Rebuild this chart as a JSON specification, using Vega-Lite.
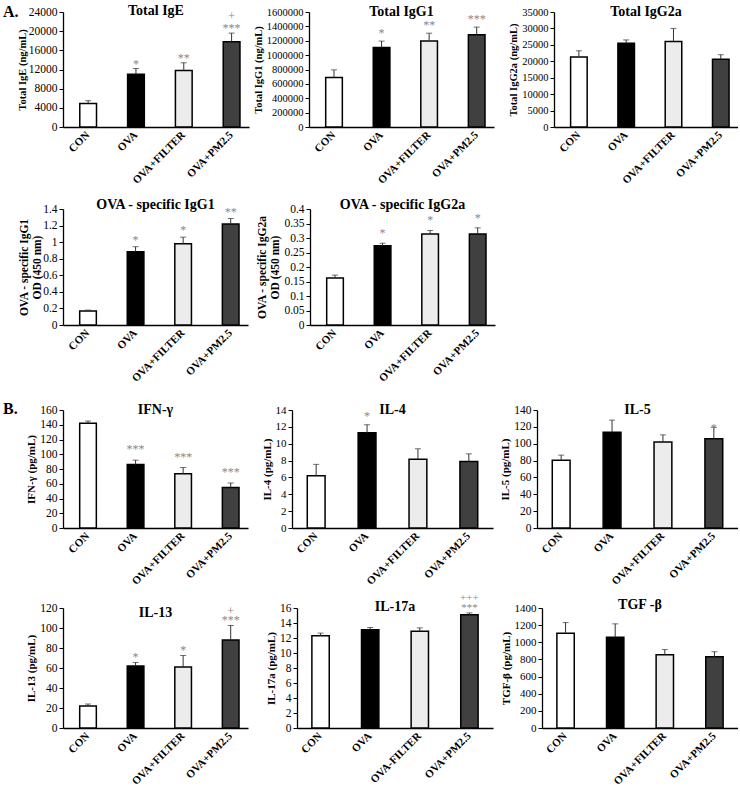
{
  "$schema": "https://vega.github.io/schema/vega-lite/v6.json",
  "background": "white",
  "padding": {"left": 3, "top": 4, "right": 0, "bottom": 0},
  "config": {
    "view": {"stroke": null},
    "font": "Liberation Serif",
    "axis": {"domainColor": "black", "domainWidth": 1.3, "tickColor": "black", "labelColor": "black", "titleColor": "black", "grid": false, "labelFont": "Liberation Serif", "titleFont": "Liberation Serif"},
    "axisY": {"tickSize": 4, "labelFontSize": 11, "titleFontSize": 10.5, "titleFontWeight": "bold", "titlePadding": 3, "labelPadding": 2},
    "axisX": {"ticks": false, "labelAngle": -45, "labelAlign": "right", "labelBaseline": "middle", "labelFontWeight": "bold", "labelFontSize": 11, "labelPadding": 6},
    "title": {"font": "Liberation Serif", "fontSize": 14, "fontWeight": "bold", "color": "black"}
  },
  "data": {"values": [
    {"p": "IgE", "g": "CON", "v": 4900, "hi": 5500, "s": "", "s2": ""},
    {"p": "IgE", "g": "OVA", "v": 11000, "hi": 12200, "s": "*", "s2": ""},
    {"p": "IgE", "g": "OVA+FILTER", "v": 11800, "hi": 13400, "s": "**", "s2": ""},
    {"p": "IgE", "g": "OVA+PM2.5", "v": 17800, "hi": 19600, "s": "***", "s2": "+"},
    {"p": "IgG1", "g": "CON", "v": 690000, "hi": 795000, "s": "", "s2": ""},
    {"p": "IgG1", "g": "OVA", "v": 1105000, "hi": 1195000, "s": "*", "s2": ""},
    {"p": "IgG1", "g": "OVA+FILTER", "v": 1195000, "hi": 1305000, "s": "**", "s2": ""},
    {"p": "IgG1", "g": "OVA+PM2.5", "v": 1285000, "hi": 1390000, "s": "***", "s2": ""},
    {"p": "IgG2a", "g": "CON", "v": 21300, "hi": 23200, "s": "", "s2": ""},
    {"p": "IgG2a", "g": "OVA", "v": 25500, "hi": 26500, "s": "", "s2": ""},
    {"p": "IgG2a", "g": "OVA+FILTER", "v": 26000, "hi": 30000, "s": "", "s2": ""},
    {"p": "IgG2a", "g": "OVA+PM2.5", "v": 20600, "hi": 22000, "s": "", "s2": ""},
    {"p": "OIgG1", "g": "CON", "v": 0.17, "hi": 0.18, "s": "", "s2": ""},
    {"p": "OIgG1", "g": "OVA", "v": 0.885, "hi": 0.945, "s": "*", "s2": ""},
    {"p": "OIgG1", "g": "OVA+FILTER", "v": 0.98, "hi": 1.06, "s": "*", "s2": ""},
    {"p": "OIgG1", "g": "OVA+PM2.5", "v": 1.22, "hi": 1.285, "s": "**", "s2": ""},
    {"p": "OIgG2a", "g": "CON", "v": 0.162, "hi": 0.172, "s": "", "s2": ""},
    {"p": "OIgG2a", "g": "OVA", "v": 0.273, "hi": 0.282, "s": "*", "s2": ""},
    {"p": "OIgG2a", "g": "OVA+FILTER", "v": 0.314, "hi": 0.326, "s": "*", "s2": ""},
    {"p": "OIgG2a", "g": "OVA+PM2.5", "v": 0.314, "hi": 0.335, "s": "*", "s2": ""},
    {"p": "IFN", "g": "CON", "v": 142, "hi": 145, "s": "", "s2": ""},
    {"p": "IFN", "g": "OVA", "v": 86, "hi": 92, "s": "***", "s2": ""},
    {"p": "IFN", "g": "OVA+FILTER", "v": 73.5, "hi": 82, "s": "***", "s2": ""},
    {"p": "IFN", "g": "OVA+PM2.5", "v": 55, "hi": 61, "s": "***", "s2": ""},
    {"p": "IL4", "g": "CON", "v": 6.2, "hi": 7.55, "s": "", "s2": ""},
    {"p": "IL4", "g": "OVA", "v": 11.3, "hi": 12.25, "s": "*", "s2": ""},
    {"p": "IL4", "g": "OVA+FILTER", "v": 8.15, "hi": 9.4, "s": "", "s2": ""},
    {"p": "IL4", "g": "OVA+PM2.5", "v": 7.9, "hi": 8.8, "s": "", "s2": ""},
    {"p": "IL5", "g": "CON", "v": 80.5, "hi": 86.5, "s": "", "s2": ""},
    {"p": "IL5", "g": "OVA", "v": 113.5, "hi": 128, "s": "", "s2": ""},
    {"p": "IL5", "g": "OVA+FILTER", "v": 102, "hi": 110.5, "s": "", "s2": ""},
    {"p": "IL5", "g": "OVA+PM2.5", "v": 106, "hi": 119.5, "s": "*", "s2": ""},
    {"p": "IL13", "g": "CON", "v": 22, "hi": 24, "s": "", "s2": ""},
    {"p": "IL13", "g": "OVA", "v": 62, "hi": 65.5, "s": "*", "s2": ""},
    {"p": "IL13", "g": "OVA+FILTER", "v": 61, "hi": 72.5, "s": "*", "s2": ""},
    {"p": "IL13", "g": "OVA+PM2.5", "v": 88, "hi": 102.5, "s": "***", "s2": "+"},
    {"p": "IL17", "g": "CON", "v": 12.3, "hi": 12.65, "s": "", "s2": ""},
    {"p": "IL17", "g": "OVA", "v": 13.1, "hi": 13.4, "s": "", "s2": ""},
    {"p": "IL17", "g": "OVA+FILTER", "v": 12.9, "hi": 13.35, "s": "", "s2": ""},
    {"p": "IL17", "g": "OVA+PM2.5", "v": 15.1, "hi": 15.35, "s": "***", "s2": "+++"},
    {"p": "TGF", "g": "CON", "v": 1105, "hi": 1230, "s": "", "s2": ""},
    {"p": "TGF", "g": "OVA", "v": 1060, "hi": 1215, "s": "", "s2": ""},
    {"p": "TGF", "g": "OVA+FILTER", "v": 855, "hi": 915, "s": "", "s2": ""},
    {"p": "TGF", "g": "OVA+PM2.5", "v": 830, "hi": 890, "s": "", "s2": ""}
  ]},
  "spacing": 17,
  "vconcat": [
    {
      "spacing": 12,
      "vconcat": [
        {
          "bounds": "flush", "spacing": 60,
          "title": {"text": "A.", "anchor": "start", "frame": "group", "dx": -60, "dy": 16, "offset": 0, "fontSize": 16},
          "hconcat": [
            {
              "width": 186, "height": 115,
              "transform": [{"filter": "datum.p === 'IgE'"}],
              "title": {"text": "Total IgE", "offset": -12, "frame": "group"},
              "encoding": {"x": {"field": "g", "type": "nominal", "sort": ["CON", "OVA", "OVA+FILTER", "OVA+PM2.5"], "scale": {"paddingInner": 0.65, "paddingOuter": 0.27, "align": 0.65}, "axis": {"title": null}}},
              "layer": [
                {"mark": {"type": "bar", "stroke": "black", "strokeWidth": 1.5}, "encoding": {"y": {"field": "v", "type": "quantitative", "scale": {"domain": [0, 24000], "nice": false}, "axis": {"values": [0, 4000, 8000, 12000, 16000, 20000, 24000], "format": "d", "title": "Total IgE (ng/mL)", "labelFontSize": 11.5, "titlePadding": 1}}, "fill": {"field": "g", "type": "nominal", "scale": {"domain": ["CON", "OVA", "OVA+FILTER", "OVA+PM2.5"], "range": ["#ffffff", "#000000", "#ececec", "#404040"]}, "legend": null}}},
                {"mark": {"type": "rule", "color": "#333", "strokeWidth": 1}, "encoding": {"y": {"field": "v", "type": "quantitative", "scale": {"domain": [0, 24000], "nice": false}, "axis": {"values": [0, 4000, 8000, 12000, 16000, 20000, 24000], "format": "d", "title": "Total IgE (ng/mL)", "labelFontSize": 11.5, "titlePadding": 1}}, "y2": {"field": "hi"}}},
                {"mark": {"type": "tick", "color": "#333", "thickness": 1, "size": 6}, "encoding": {"y": {"field": "hi", "type": "quantitative", "scale": {"domain": [0, 24000], "nice": false}, "axis": {"values": [0, 4000, 8000, 12000, 16000, 20000, 24000], "format": "d", "title": "Total IgE (ng/mL)", "labelFontSize": 11.5, "titlePadding": 1}}}},
                {"mark": {"type": "text", "baseline": "bottom", "color": "#888", "fontSize": 12, "dy": 2}, "encoding": {"y": {"field": "hi", "type": "quantitative", "scale": {"domain": [0, 24000], "nice": false}, "axis": {"values": [0, 4000, 8000, 12000, 16000, 20000, 24000], "format": "d", "title": "Total IgE (ng/mL)", "labelFontSize": 11.5, "titlePadding": 1}}, "text": {"field": "s"}}},
                {"mark": {"type": "text", "baseline": "bottom", "color": "#888", "fontSize": 12, "dy": -10}, "encoding": {"y": {"field": "hi", "type": "quantitative", "scale": {"domain": [0, 24000], "nice": false}, "axis": {"values": [0, 4000, 8000, 12000, 16000, 20000, 24000], "format": "d", "title": "Total IgE (ng/mL)", "labelFontSize": 11.5, "titlePadding": 1}}, "text": {"field": "s2"}}}
              ]
            },
            {
              "width": 185, "height": 115,
              "transform": [{"filter": "datum.p === 'IgG1'"}],
              "title": {"text": "Total IgG1", "offset": -12, "frame": "group"},
              "encoding": {"x": {"field": "g", "type": "nominal", "sort": ["CON", "OVA", "OVA+FILTER", "OVA+PM2.5"], "scale": {"paddingInner": 0.65, "paddingOuter": 0.27, "align": 0.65}, "axis": {"title": null}}},
              "layer": [
                {"mark": {"type": "bar", "stroke": "black", "strokeWidth": 1.5}, "encoding": {"y": {"field": "v", "type": "quantitative", "scale": {"domain": [0, 1600000], "nice": false}, "axis": {"values": [0, 200000, 400000, 600000, 800000, 1000000, 1200000, 1400000, 1600000], "format": "d", "title": "Total IgG1 (ng/mL)", "labelFontSize": 10.5}}, "fill": {"field": "g", "type": "nominal", "scale": {"domain": ["CON", "OVA", "OVA+FILTER", "OVA+PM2.5"], "range": ["#ffffff", "#000000", "#ececec", "#404040"]}, "legend": null}}},
                {"mark": {"type": "rule", "color": "#333", "strokeWidth": 1}, "encoding": {"y": {"field": "v", "type": "quantitative", "scale": {"domain": [0, 1600000], "nice": false}, "axis": {"values": [0, 200000, 400000, 600000, 800000, 1000000, 1200000, 1400000, 1600000], "format": "d", "title": "Total IgG1 (ng/mL)", "labelFontSize": 10.5}}, "y2": {"field": "hi"}}},
                {"mark": {"type": "tick", "color": "#333", "thickness": 1, "size": 6}, "encoding": {"y": {"field": "hi", "type": "quantitative", "scale": {"domain": [0, 1600000], "nice": false}, "axis": {"values": [0, 200000, 400000, 600000, 800000, 1000000, 1200000, 1400000, 1600000], "format": "d", "title": "Total IgG1 (ng/mL)", "labelFontSize": 10.5}}}},
                {"mark": {"type": "text", "baseline": "bottom", "color": "#888", "fontSize": 12, "dy": -1.5}, "encoding": {"y": {"field": "hi", "type": "quantitative", "scale": {"domain": [0, 1600000], "nice": false}, "axis": {"values": [0, 200000, 400000, 600000, 800000, 1000000, 1200000, 1400000, 1600000], "format": "d", "title": "Total IgG1 (ng/mL)", "labelFontSize": 10.5}}, "text": {"field": "s"}}}
              ]
            },
            {
              "width": 184, "height": 115,
              "transform": [{"filter": "datum.p === 'IgG2a'"}],
              "title": {"text": "Total IgG2a", "offset": -12, "frame": "group"},
              "encoding": {"x": {"field": "g", "type": "nominal", "sort": ["CON", "OVA", "OVA+FILTER", "OVA+PM2.5"], "scale": {"paddingInner": 0.65, "paddingOuter": 0.27, "align": 0.65}, "axis": {"title": null}}},
              "layer": [
                {"mark": {"type": "bar", "stroke": "black", "strokeWidth": 1.5}, "encoding": {"y": {"field": "v", "type": "quantitative", "scale": {"domain": [0, 35000], "nice": false}, "axis": {"values": [0, 5000, 10000, 15000, 20000, 25000, 30000, 35000], "format": "d", "title": "Total IgG2a (ng/mL)", "labelFontSize": 10.5}}, "fill": {"field": "g", "type": "nominal", "scale": {"domain": ["CON", "OVA", "OVA+FILTER", "OVA+PM2.5"], "range": ["#ffffff", "#000000", "#ececec", "#404040"]}, "legend": null}}},
                {"mark": {"type": "rule", "color": "#333", "strokeWidth": 1}, "encoding": {"y": {"field": "v", "type": "quantitative", "scale": {"domain": [0, 35000], "nice": false}, "axis": {"values": [0, 5000, 10000, 15000, 20000, 25000, 30000, 35000], "format": "d", "title": "Total IgG2a (ng/mL)", "labelFontSize": 10.5}}, "y2": {"field": "hi"}}},
                {"mark": {"type": "tick", "color": "#333", "thickness": 1, "size": 6}, "encoding": {"y": {"field": "hi", "type": "quantitative", "scale": {"domain": [0, 35000], "nice": false}, "axis": {"values": [0, 5000, 10000, 15000, 20000, 25000, 30000, 35000], "format": "d", "title": "Total IgG2a (ng/mL)", "labelFontSize": 10.5}}}}
              ]
            }
          ]
        },
        {
          "bounds": "flush", "spacing": 62,
          "hconcat": [
            {
              "width": 185, "height": 116,
              "transform": [{"filter": "datum.p === 'OIgG1'"}],
              "title": {"text": "OVA - specific IgG1", "offset": -9, "frame": "group"},
              "encoding": {"x": {"field": "g", "type": "nominal", "sort": ["CON", "OVA", "OVA+FILTER", "OVA+PM2.5"], "scale": {"paddingInner": 0.65, "paddingOuter": 0.27, "align": 0.65}, "axis": {"title": null}}},
              "layer": [
                {"mark": {"type": "bar", "stroke": "black", "strokeWidth": 1.5}, "encoding": {"y": {"field": "v", "type": "quantitative", "scale": {"domain": [0, 1.4], "nice": false}, "axis": {"values": [0, 0.2, 0.4, 0.6, 0.8, 1, 1.2, 1.4], "format": "~g", "title": ["OVA - specific IgG1", "OD (450 nm)"], "titleFontSize": 11.5, "labelFontSize": 11.5, "titlePadding": 0}}, "fill": {"field": "g", "type": "nominal", "scale": {"domain": ["CON", "OVA", "OVA+FILTER", "OVA+PM2.5"], "range": ["#ffffff", "#000000", "#ececec", "#333333"]}, "legend": null}}},
                {"mark": {"type": "rule", "color": "#333", "strokeWidth": 1}, "encoding": {"y": {"field": "v", "type": "quantitative", "scale": {"domain": [0, 1.4], "nice": false}, "axis": {"values": [0, 0.2, 0.4, 0.6, 0.8, 1, 1.2, 1.4], "format": "~g", "title": ["OVA - specific IgG1", "OD (450 nm)"], "titleFontSize": 11.5, "labelFontSize": 11.5, "titlePadding": 0}}, "y2": {"field": "hi"}}},
                {"mark": {"type": "tick", "color": "#333", "thickness": 1, "size": 6}, "encoding": {"y": {"field": "hi", "type": "quantitative", "scale": {"domain": [0, 1.4], "nice": false}, "axis": {"values": [0, 0.2, 0.4, 0.6, 0.8, 1, 1.2, 1.4], "format": "~g", "title": ["OVA - specific IgG1", "OD (450 nm)"], "titleFontSize": 11.5, "labelFontSize": 11.5, "titlePadding": 0}}}},
                {"mark": {"type": "text", "baseline": "bottom", "color": "#888", "fontSize": 12, "dy": 0}, "encoding": {"y": {"field": "hi", "type": "quantitative", "scale": {"domain": [0, 1.4], "nice": false}, "axis": {"values": [0, 0.2, 0.4, 0.6, 0.8, 1, 1.2, 1.4], "format": "~g", "title": ["OVA - specific IgG1", "OD (450 nm)"], "titleFontSize": 11.5, "labelFontSize": 11.5, "titlePadding": 0}}, "text": {"field": "s"}}}
              ]
            },
            {
              "width": 185, "height": 116,
              "transform": [{"filter": "datum.p === 'OIgG2a'"}],
              "title": {"text": "OVA - specific IgG2a", "offset": -9, "frame": "group"},
              "encoding": {"x": {"field": "g", "type": "nominal", "sort": ["CON", "OVA", "OVA+FILTER", "OVA+PM2.5"], "scale": {"paddingInner": 0.65, "paddingOuter": 0.27, "align": 0.65}, "axis": {"title": null}}},
              "layer": [
                {"mark": {"type": "bar", "stroke": "black", "strokeWidth": 1.5}, "encoding": {"y": {"field": "v", "type": "quantitative", "scale": {"domain": [0, 0.4], "nice": false}, "axis": {"values": [0, 0.05, 0.1, 0.15, 0.2, 0.25, 0.3, 0.35, 0.4], "format": "~g", "title": ["OVA - specific IgG2a", "OD (450 nm)"], "titleFontSize": 11.5, "labelFontSize": 11.5}}, "fill": {"field": "g", "type": "nominal", "scale": {"domain": ["CON", "OVA", "OVA+FILTER", "OVA+PM2.5"], "range": ["#ffffff", "#000000", "#ececec", "#333333"]}, "legend": null}}},
                {"mark": {"type": "rule", "color": "#333", "strokeWidth": 1}, "encoding": {"y": {"field": "v", "type": "quantitative", "scale": {"domain": [0, 0.4], "nice": false}, "axis": {"values": [0, 0.05, 0.1, 0.15, 0.2, 0.25, 0.3, 0.35, 0.4], "format": "~g", "title": ["OVA - specific IgG2a", "OD (450 nm)"], "titleFontSize": 11.5, "labelFontSize": 11.5}}, "y2": {"field": "hi"}}},
                {"mark": {"type": "tick", "color": "#333", "thickness": 1, "size": 6}, "encoding": {"y": {"field": "hi", "type": "quantitative", "scale": {"domain": [0, 0.4], "nice": false}, "axis": {"values": [0, 0.05, 0.1, 0.15, 0.2, 0.25, 0.3, 0.35, 0.4], "format": "~g", "title": ["OVA - specific IgG2a", "OD (450 nm)"], "titleFontSize": 11.5, "labelFontSize": 11.5}}}},
                {"mark": {"type": "text", "baseline": "bottom", "color": "#888", "fontSize": 12, "dy": -3}, "encoding": {"y": {"field": "hi", "type": "quantitative", "scale": {"domain": [0, 0.4], "nice": false}, "axis": {"values": [0, 0.05, 0.1, 0.15, 0.2, 0.25, 0.3, 0.35, 0.4], "format": "~g", "title": ["OVA - specific IgG2a", "OD (450 nm)"], "titleFontSize": 11.5, "labelFontSize": 11.5}}, "text": {"field": "s"}}}
              ]
            }
          ]
        }
      ]
    },
    {
      "spacing": 4,
      "vconcat": [
        {
          "bounds": "flush", "spacing": 44,
          "title": {"text": "B.", "anchor": "start", "frame": "group", "dx": -60, "dy": 14, "offset": 0, "fontSize": 16},
          "hconcat": [
            {
              "width": 185, "height": 118,
              "transform": [{"filter": "datum.p === 'IFN'"}],
              "title": {"text": "IFN-γ", "offset": -13, "frame": "group"},
              "encoding": {"x": {"field": "g", "type": "nominal", "sort": ["CON", "OVA", "OVA+FILTER", "OVA+PM2.5"], "scale": {"paddingInner": 0.65, "paddingOuter": 0.27, "align": 0.65}, "axis": {"title": null}}},
              "layer": [
                {"mark": {"type": "bar", "stroke": "black", "strokeWidth": 1.5}, "encoding": {"y": {"field": "v", "type": "quantitative", "scale": {"domain": [0, 160], "nice": false}, "axis": {"values": [0, 20, 40, 60, 80, 100, 120, 140, 160], "format": "d", "title": "IFN-γ (pg/mL)", "titleFontSize": 11, "labelFontSize": 11.5}}, "fill": {"field": "g", "type": "nominal", "scale": {"domain": ["CON", "OVA", "OVA+FILTER", "OVA+PM2.5"], "range": ["#ffffff", "#000000", "#ececec", "#404040"]}, "legend": null}}},
                {"mark": {"type": "rule", "color": "#333", "strokeWidth": 1}, "encoding": {"y": {"field": "v", "type": "quantitative", "scale": {"domain": [0, 160], "nice": false}, "axis": {"values": [0, 20, 40, 60, 80, 100, 120, 140, 160], "format": "d", "title": "IFN-γ (pg/mL)", "titleFontSize": 11, "labelFontSize": 11.5}}, "y2": {"field": "hi"}}},
                {"mark": {"type": "tick", "color": "#333", "thickness": 1, "size": 6}, "encoding": {"y": {"field": "hi", "type": "quantitative", "scale": {"domain": [0, 160], "nice": false}, "axis": {"values": [0, 20, 40, 60, 80, 100, 120, 140, 160], "format": "d", "title": "IFN-γ (pg/mL)", "titleFontSize": 11, "labelFontSize": 11.5}}}},
                {"mark": {"type": "text", "baseline": "bottom", "color": "#888", "fontSize": 12, "dy": -4}, "encoding": {"y": {"field": "hi", "type": "quantitative", "scale": {"domain": [0, 160], "nice": false}, "axis": {"values": [0, 20, 40, 60, 80, 100, 120, 140, 160], "format": "d", "title": "IFN-γ (pg/mL)", "titleFontSize": 11, "labelFontSize": 11.5}}, "text": {"field": "s"}}}
              ]
            },
            {
              "width": 201, "height": 118,
              "transform": [{"filter": "datum.p === 'IL4'"}],
              "title": {"text": "IL-4", "offset": -13, "frame": "group"},
              "encoding": {"x": {"field": "g", "type": "nominal", "sort": ["CON", "OVA", "OVA+FILTER", "OVA+PM2.5"], "scale": {"paddingInner": 0.65, "paddingOuter": 0.3, "align": 0.5}, "axis": {"title": null}}},
              "layer": [
                {"mark": {"type": "bar", "stroke": "black", "strokeWidth": 1.5}, "encoding": {"y": {"field": "v", "type": "quantitative", "scale": {"domain": [0, 14], "nice": false}, "axis": {"values": [0, 2, 4, 6, 8, 10, 12, 14], "format": "d", "title": "IL-4 (pg/mL)", "titleFontSize": 11, "labelFontSize": 11}}, "fill": {"field": "g", "type": "nominal", "scale": {"domain": ["CON", "OVA", "OVA+FILTER", "OVA+PM2.5"], "range": ["#ffffff", "#000000", "#ececec", "#404040"]}, "legend": null}}},
                {"mark": {"type": "rule", "color": "#333", "strokeWidth": 1}, "encoding": {"y": {"field": "v", "type": "quantitative", "scale": {"domain": [0, 14], "nice": false}, "axis": {"values": [0, 2, 4, 6, 8, 10, 12, 14], "format": "d", "title": "IL-4 (pg/mL)", "titleFontSize": 11, "labelFontSize": 11}}, "y2": {"field": "hi"}}},
                {"mark": {"type": "tick", "color": "#333", "thickness": 1, "size": 6}, "encoding": {"y": {"field": "hi", "type": "quantitative", "scale": {"domain": [0, 14], "nice": false}, "axis": {"values": [0, 2, 4, 6, 8, 10, 12, 14], "format": "d", "title": "IL-4 (pg/mL)", "titleFontSize": 11, "labelFontSize": 11}}}},
                {"mark": {"type": "text", "baseline": "bottom", "color": "#888", "fontSize": 12, "dy": -2}, "encoding": {"y": {"field": "hi", "type": "quantitative", "scale": {"domain": [0, 14], "nice": false}, "axis": {"values": [0, 2, 4, 6, 8, 10, 12, 14], "format": "d", "title": "IL-4 (pg/mL)", "titleFontSize": 11, "labelFontSize": 11}}, "text": {"field": "s"}}}
              ]
            },
            {
              "width": 201, "height": 118,
              "transform": [{"filter": "datum.p === 'IL5'"}],
              "title": {"text": "IL-5", "offset": -13, "frame": "group"},
              "encoding": {"x": {"field": "g", "type": "nominal", "sort": ["CON", "OVA", "OVA+FILTER", "OVA+PM2.5"], "scale": {"paddingInner": 0.65, "paddingOuter": 0.3, "align": 0.5}, "axis": {"title": null}}},
              "layer": [
                {"mark": {"type": "bar", "stroke": "black", "strokeWidth": 1.5}, "encoding": {"y": {"field": "v", "type": "quantitative", "scale": {"domain": [0, 140], "nice": false}, "axis": {"values": [0, 20, 40, 60, 80, 100, 120, 140], "format": "d", "title": "IL-5 (pg/mL)", "titleFontSize": 11, "labelFontSize": 11.5}}, "fill": {"field": "g", "type": "nominal", "scale": {"domain": ["CON", "OVA", "OVA+FILTER", "OVA+PM2.5"], "range": ["#ffffff", "#000000", "#ececec", "#404040"]}, "legend": null}}},
                {"mark": {"type": "rule", "color": "#333", "strokeWidth": 1}, "encoding": {"y": {"field": "v", "type": "quantitative", "scale": {"domain": [0, 140], "nice": false}, "axis": {"values": [0, 20, 40, 60, 80, 100, 120, 140], "format": "d", "title": "IL-5 (pg/mL)", "titleFontSize": 11, "labelFontSize": 11.5}}, "y2": {"field": "hi"}}},
                {"mark": {"type": "tick", "color": "#333", "thickness": 1, "size": 6}, "encoding": {"y": {"field": "hi", "type": "quantitative", "scale": {"domain": [0, 140], "nice": false}, "axis": {"values": [0, 20, 40, 60, 80, 100, 120, 140], "format": "d", "title": "IL-5 (pg/mL)", "titleFontSize": 11, "labelFontSize": 11.5}}}},
                {"mark": {"type": "text", "baseline": "bottom", "color": "#888", "fontSize": 12, "dy": 8}, "encoding": {"y": {"field": "hi", "type": "quantitative", "scale": {"domain": [0, 140], "nice": false}, "axis": {"values": [0, 20, 40, 60, 80, 100, 120, 140], "format": "d", "title": "IL-5 (pg/mL)", "titleFontSize": 11, "labelFontSize": 11.5}}, "text": {"field": "s"}}}
              ]
            }
          ]
        },
        {
          "bounds": "flush", "spacing": 49,
          "hconcat": [
            {
              "width": 185, "height": 120,
              "transform": [{"filter": "datum.p === 'IL13'"}],
              "title": {"text": "IL-13", "offset": -18, "frame": "group"},
              "encoding": {"x": {"field": "g", "type": "nominal", "sort": ["CON", "OVA", "OVA+FILTER", "OVA+PM2.5"], "scale": {"paddingInner": 0.65, "paddingOuter": 0.27, "align": 0.65}, "axis": {"title": null}}},
              "layer": [
                {"mark": {"type": "bar", "stroke": "black", "strokeWidth": 1.5}, "encoding": {"y": {"field": "v", "type": "quantitative", "scale": {"domain": [0, 120], "nice": false}, "axis": {"values": [0, 20, 40, 60, 80, 100, 120], "format": "d", "title": "IL-13 (pg/mL)", "titleFontSize": 11, "labelFontSize": 11.5}}, "fill": {"field": "g", "type": "nominal", "scale": {"domain": ["CON", "OVA", "OVA+FILTER", "OVA+PM2.5"], "range": ["#ffffff", "#000000", "#ececec", "#404040"]}, "legend": null}}},
                {"mark": {"type": "rule", "color": "#333", "strokeWidth": 1}, "encoding": {"y": {"field": "v", "type": "quantitative", "scale": {"domain": [0, 120], "nice": false}, "axis": {"values": [0, 20, 40, 60, 80, 100, 120], "format": "d", "title": "IL-13 (pg/mL)", "titleFontSize": 11, "labelFontSize": 11.5}}, "y2": {"field": "hi"}}},
                {"mark": {"type": "tick", "color": "#333", "thickness": 1, "size": 6}, "encoding": {"y": {"field": "hi", "type": "quantitative", "scale": {"domain": [0, 120], "nice": false}, "axis": {"values": [0, 20, 40, 60, 80, 100, 120], "format": "d", "title": "IL-13 (pg/mL)", "titleFontSize": 11, "labelFontSize": 11.5}}}},
                {"mark": {"type": "text", "baseline": "bottom", "color": "#888", "fontSize": 12, "dy": 1}, "encoding": {"y": {"field": "hi", "type": "quantitative", "scale": {"domain": [0, 120], "nice": false}, "axis": {"values": [0, 20, 40, 60, 80, 100, 120], "format": "d", "title": "IL-13 (pg/mL)", "titleFontSize": 11, "labelFontSize": 11.5}}, "text": {"field": "s"}}},
                {"mark": {"type": "text", "baseline": "bottom", "color": "#888", "fontSize": 12, "dy": -8}, "encoding": {"y": {"field": "hi", "type": "quantitative", "scale": {"domain": [0, 120], "nice": false}, "axis": {"values": [0, 20, 40, 60, 80, 100, 120], "format": "d", "title": "IL-13 (pg/mL)", "titleFontSize": 11, "labelFontSize": 11.5}}, "text": {"field": "s2"}}}
              ]
            },
            {
              "width": 196, "height": 120,
              "transform": [{"filter": "datum.p === 'IL17'"}],
              "title": {"text": "IL-17a", "offset": -22, "frame": "group"},
              "encoding": {"x": {"field": "g", "type": "nominal", "sort": ["CON", "OVA", "OVA+FILTER", "OVA+PM2.5"], "scale": {"paddingInner": 0.65, "paddingOuter": 0.3, "align": 0.5}, "axis": {"title": null, "labelExpr": "datum.label === 'OVA+FILTER' ? 'OVA-FILTER' : datum.label"}}},
              "layer": [
                {"mark": {"type": "bar", "stroke": "black", "strokeWidth": 1.5}, "encoding": {"y": {"field": "v", "type": "quantitative", "scale": {"domain": [0, 16], "nice": false}, "axis": {"values": [0, 2, 4, 6, 8, 10, 12, 14, 16], "format": "d", "title": "IL-17a (pg/mL)", "titleFontSize": 11, "labelFontSize": 11.5}}, "fill": {"field": "g", "type": "nominal", "scale": {"domain": ["CON", "OVA", "OVA+FILTER", "OVA+PM2.5"], "range": ["#ffffff", "#000000", "#ececec", "#404040"]}, "legend": null}}},
                {"mark": {"type": "rule", "color": "#333", "strokeWidth": 1}, "encoding": {"y": {"field": "v", "type": "quantitative", "scale": {"domain": [0, 16], "nice": false}, "axis": {"values": [0, 2, 4, 6, 8, 10, 12, 14, 16], "format": "d", "title": "IL-17a (pg/mL)", "titleFontSize": 11, "labelFontSize": 11.5}}, "y2": {"field": "hi"}}},
                {"mark": {"type": "tick", "color": "#333", "thickness": 1, "size": 6}, "encoding": {"y": {"field": "hi", "type": "quantitative", "scale": {"domain": [0, 16], "nice": false}, "axis": {"values": [0, 2, 4, 6, 8, 10, 12, 14, 16], "format": "d", "title": "IL-17a (pg/mL)", "titleFontSize": 11, "labelFontSize": 11.5}}}},
                {"mark": {"type": "text", "baseline": "bottom", "color": "#888", "fontSize": 11, "dy": 0}, "encoding": {"y": {"field": "hi", "type": "quantitative", "scale": {"domain": [0, 16], "nice": false}, "axis": {"values": [0, 2, 4, 6, 8, 10, 12, 14, 16], "format": "d", "title": "IL-17a (pg/mL)", "titleFontSize": 11, "labelFontSize": 11.5}}, "text": {"field": "s"}}},
                {"mark": {"type": "text", "baseline": "bottom", "color": "#888", "fontSize": 11, "dy": -10}, "encoding": {"y": {"field": "hi", "type": "quantitative", "scale": {"domain": [0, 16], "nice": false}, "axis": {"values": [0, 2, 4, 6, 8, 10, 12, 14, 16], "format": "d", "title": "IL-17a (pg/mL)", "titleFontSize": 11, "labelFontSize": 11.5}}, "text": {"field": "s2"}}}
              ]
            },
            {
              "width": 196, "height": 120,
              "transform": [{"filter": "datum.p === 'TGF'"}],
              "title": {"text": "TGF -β", "offset": -10, "frame": "group"},
              "encoding": {"x": {"field": "g", "type": "nominal", "sort": ["CON", "OVA", "OVA+FILTER", "OVA+PM2.5"], "scale": {"paddingInner": 0.65, "paddingOuter": 0.3, "align": 0.5}, "axis": {"title": null}}},
              "layer": [
                {"mark": {"type": "bar", "stroke": "black", "strokeWidth": 1.5}, "encoding": {"y": {"field": "v", "type": "quantitative", "scale": {"domain": [0, 1400], "nice": false}, "axis": {"values": [0, 200, 400, 600, 800, 1000, 1200, 1400], "format": "d", "title": "TGF-β (pg/mL)", "titleFontSize": 11, "labelFontSize": 11}}, "fill": {"field": "g", "type": "nominal", "scale": {"domain": ["CON", "OVA", "OVA+FILTER", "OVA+PM2.5"], "range": ["#ffffff", "#000000", "#ececec", "#404040"]}, "legend": null}}},
                {"mark": {"type": "rule", "color": "#333", "strokeWidth": 1}, "encoding": {"y": {"field": "v", "type": "quantitative", "scale": {"domain": [0, 1400], "nice": false}, "axis": {"values": [0, 200, 400, 600, 800, 1000, 1200, 1400], "format": "d", "title": "TGF-β (pg/mL)", "titleFontSize": 11, "labelFontSize": 11}}, "y2": {"field": "hi"}}},
                {"mark": {"type": "tick", "color": "#333", "thickness": 1, "size": 6}, "encoding": {"y": {"field": "hi", "type": "quantitative", "scale": {"domain": [0, 1400], "nice": false}, "axis": {"values": [0, 200, 400, 600, 800, 1000, 1200, 1400], "format": "d", "title": "TGF-β (pg/mL)", "titleFontSize": 11, "labelFontSize": 11}}}}
              ]
            }
          ]
        }
      ]
    }
  ]
}
